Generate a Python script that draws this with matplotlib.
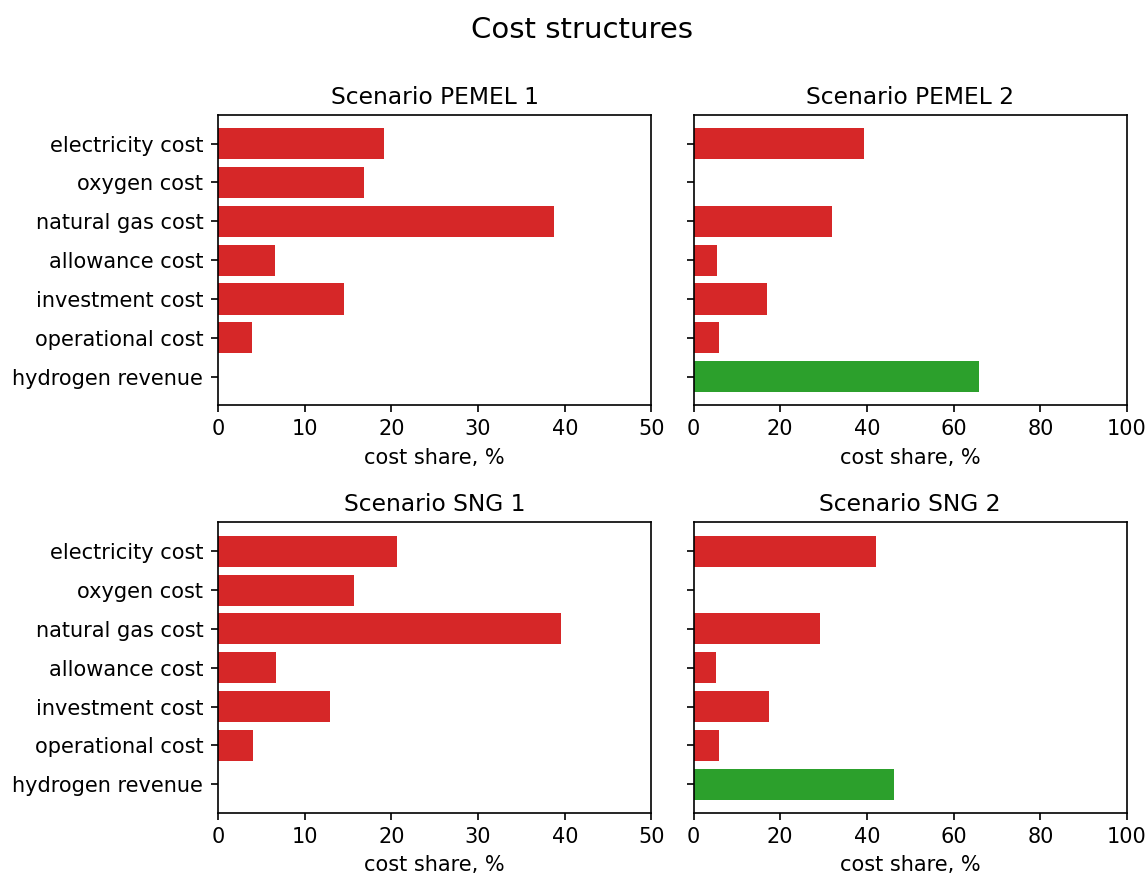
import matplotlib
matplotlib.use("Agg")
import matplotlib.pyplot as plt

# cost items, top to bottom
items = ["electricity cost", "oxygen cost", "natural gas cost", "allowance cost",
         "investment cost", "operational cost", "hydrogen revenue"]

# cost shares, %
pemel_1 = [19.1, 16.8, 38.8, 6.6, 14.5, 3.95, 0.0]
pemel_2 = [39.3, 0.0, 32.0, 5.4, 16.9, 5.8, 65.8]
sng_1 = [20.7, 15.7, 39.6, 6.7, 12.9, 4.1, 0.0]
sng_2 = [42.1, 0.0, 29.2, 5.1, 17.3, 5.8, 46.3]

titles = ["Scenario PEMEL 1", "Scenario PEMEL 2", "Scenario SNG 1", "Scenario SNG 2"]
xmax = [50, 100, 50, 100]

colors = ["tab:red"] * 6 + ["tab:green"]

plt.rcParams.update({
    "font.size": 15,
    "axes.linewidth": 1.2,
    "xtick.major.size": 5,
    "ytick.major.size": 5,
    "xtick.major.width": 1.2,
    "ytick.major.width": 1.2,
    "xtick.major.pad": 5,
    "ytick.major.pad": 5.5,
})

fig, axes = plt.subplots(2, 2, figsize=(11.47, 8.77), dpi=100, sharey=True)
fig.subplots_adjust(left=0.190, right=0.9826, top=0.869, bottom=0.073,
                    wspace=0.097, hspace=0.403)

for ax, vals, title, xm in zip(axes.flat, [pemel_1, pemel_2, sng_1, sng_2], titles, xmax):
    ax.barh(items, vals, color=colors)
    ax.set_title(title, fontsize=16.8, pad=8)
    ax.set_xlim(0, xm)
    ax.set_xlabel("cost share, %", labelpad=6)

axes[0, 0].invert_yaxis()

fig.suptitle("Cost structures", fontsize=21, x=0.507, y=0.982)
fig.savefig("out.png", dpi=100)
